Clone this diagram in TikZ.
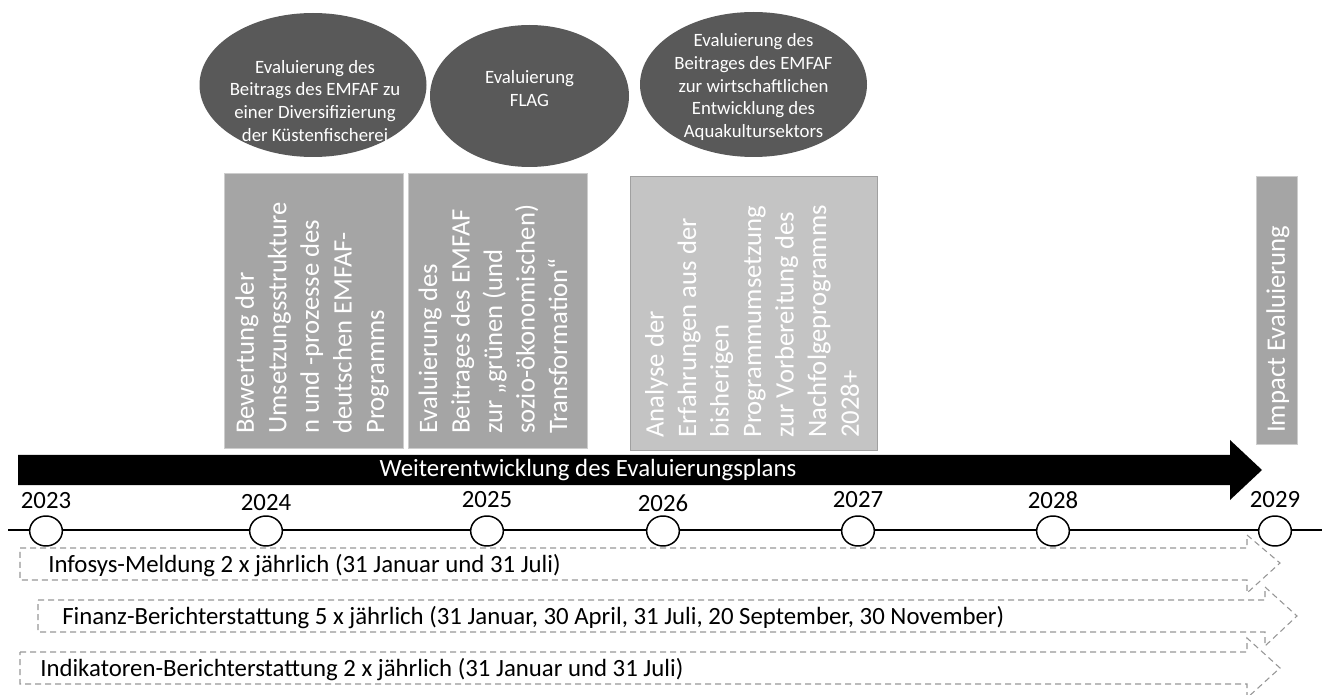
\documentclass[tikz,border=0pt]{standalone}
\usepackage{fontspec}
\setmainfont{Carlito}
\usetikzlibrary{shapes.geometric,calc}
\definecolor{ellgray}{RGB}{89,89,89}
\definecolor{boxgray}{RGB}{165,165,165}
\definecolor{boxlight}{RGB}{196,196,196}
\definecolor{boxedge}{RGB}{205,205,205}
\definecolor{boxedgedark}{RGB}{160,160,160}
\definecolor{dashgray}{RGB}{150,150,150}
\begin{document}
\begin{tikzpicture}[x=0.75pt,y=-0.75pt,
  evalell/.style={ellipse, fill=ellgray, draw=none, inner sep=0pt},
  elltext/.style={text=white, align=center, font=\fontsize{14.1}{17.2}\selectfont, inner sep=0pt},
  phasebox/.style={rectangle, anchor=north west, draw=boxedge, line width=0.75pt, inner sep=0pt},
  boxtext/.style={rotate=90, anchor=west, align=left, text=white, font=\fontsize{20}{24.4}\selectfont, inner sep=0pt},
  yearlabel/.style={font=\fontsize{18.6}{22}\selectfont, inner sep=0pt},
  yearmark/.style={ellipse, draw=black, fill=white, line width=1.1pt, minimum width=24.5pt, minimum height=22.5pt, inner sep=0pt},
  reptext/.style={anchor=west, font=\fontsize{18.6}{22}\selectfont, inner sep=0pt},
  dasharrow/.style={draw=dashgray, line width=0.8pt, dash pattern=on 4.5pt off 3pt}
]
\useasboundingbox (0,0) rectangle (1322,695);

% ellipses
\node[evalell, minimum width=170.25pt, minimum height=108pt] (e1) at (313,85) {};
\node[elltext] (e1t) at (315,101) {Evaluierung des\\Beitrags des EMFAF zu\\einer Diversifizierung\\der Küstenfischerei};
\node[evalell, minimum width=149.25pt, minimum height=106.5pt] (e2) at (529.5,96) {};
\node[elltext] (e2t) at (529.5,89) {Evaluierung\\FLAG};
\node[evalell, minimum width=170.25pt, minimum height=108.75pt] (e3) at (753.5,84.5) {};
\node[elltext] (e3t) at (753.5,87) {Evaluierung des\\Beitrages des EMFAF\\zur wirtschaftlichen\\Entwicklung des\\Aquakultursektors};

% boxes
\node[phasebox, fill=boxgray, minimum width=134.25pt, minimum height=206.25pt] (b1) at (224,173) {};
\node[boxtext] (b1t) at (312,434) {Bewertung der\\Umsetzungsstrukture\\n und -prozesse des\\deutschen EMFAF-\\Programms};
\node[phasebox, fill=boxgray, minimum width=134.25pt, minimum height=206.25pt] (b2) at (408,173) {};
\node[boxtext] (b2t) at (493,434) {Evaluierung des\\Beitrages des EMFAF\\zur „grünen (und\\sozio-ökonomischen)\\Transformation“};
\node[phasebox, fill=boxlight, draw=boxedgedark, minimum width=185.25pt, minimum height=205.5pt] (b3) at (630,176) {};
\node[boxtext] (b3t) at (752,438) {Analyse der\\Erfahrungen aus der\\bisherigen\\Programmumsetzung\\zur Vorbereitung des\\Nachfolgeprogramms\\2028+};
\node[phasebox, fill=boxgray, minimum width=30.75pt, minimum height=201pt] (b4) at (1256,176) {};
\node[boxtext] (b4t) at (1278,433) {Impact Evaluierung};

% black arrow
\fill[black] (18,455) -- (1230,455) -- (1230,440) -- (1262,470) -- (1230,500) -- (1230,485) -- (18,485) -- cycle;
\node[text=white, font=\fontsize{18.6}{22}\selectfont, inner sep=0pt] (plan) at (588,470) {Weiterentwicklung des Evaluierungsplans};

% timeline
\coordinate (tlstart) at (8,530);
\coordinate (tlend) at (1322,530);
\draw[line width=1.1pt] (tlstart) -- (tlend);
\foreach \yr/\xx/\ly in {2023/46/501, 2024/266/503, 2025/487/500, 2026/663/503, 2027/858/500, 2028/1053/500, 2029/1275/500}{
  \node[yearmark] (m\yr) at (\xx,531) {};
  \node[yearlabel] (l\yr) at (\xx,\ly) {\yr};
}

% dashed arrows
\draw[dasharrow] (20,548) -- (1247,548) -- (1247,535) -- (1280,563) -- (1247,593) -- (1247,580) -- (20,580) -- cycle;
\node[reptext] (r1) at (48,566) {Infosys-Meldung 2 x jährlich (31 Januar und 31 Juli)};
\draw[dasharrow] (38,600) -- (1265,600) -- (1265,587) -- (1297,616) -- (1265,646) -- (1265,632) -- (38,632) -- cycle;
\node[reptext] (r2) at (62,618) {Finanz-Berichterstattung 5 x jährlich (31 Januar, 30 April, 31 Juli, 20 September, 30 November)};
\draw[dasharrow] (20,652) -- (1247,652) -- (1247,638) -- (1280,668) -- (1247,698) -- (1247,684) -- (20,684) -- cycle;
\node[reptext] (r3) at (40,670) {Indikatoren-Berichterstattung 2 x jährlich (31 Januar und 31 Juli)};
\end{tikzpicture}
\end{document}
